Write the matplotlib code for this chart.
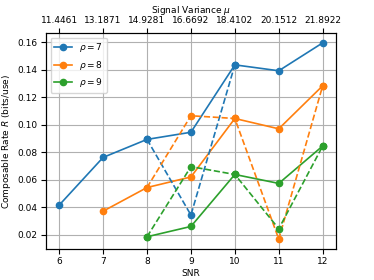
import matplotlib
matplotlib.use("Agg")
import matplotlib.pyplot as plt

snr_7 = [6, 7, 8, 9, 10, 11, 12]
rate_7 = [0.0415, 0.0762, 0.0893, 0.0945, 0.1435, 0.1392, 0.1595]
snr_8 = [7, 8, 9, 10, 11, 12]
rate_8 = [0.0371, 0.0543, 0.0620, 0.1045, 0.0970, 0.1283]
snr_9 = [8, 9, 10, 11, 12]
rate_9 = [0.0185, 0.0260, 0.0638, 0.0573, 0.0845]

dash_snr_7 = [8, 9, 10]
dash_rate_7 = [0.0893, 0.0343, 0.1435]
dash_snr_8 = [8, 9, 10, 11, 12]
dash_rate_8 = [0.0543, 0.1065, 0.1045, 0.0168, 0.1283]
dash_snr_9 = [8, 9, 10, 11, 12]
dash_rate_9 = [0.0185, 0.0695, 0.0638, 0.0243, 0.0845]

snr_ticks = [6, 7, 8, 9, 10, 11, 12]
variance_labels = ["11.4461", "13.1871", "14.9281", "16.6692", "18.4102", "20.1512", "21.8922"]

plt.rcParams["font.size"] = 6.5
plt.rcParams["xtick.major.pad"] = 2.5
plt.rcParams["ytick.major.pad"] = 2.5
fig, ax = plt.subplots(figsize=(3.74, 2.8), dpi=100)
fig.subplots_adjust(left=0.123, right=0.898, top=0.882, bottom=0.111)

ms = 4.5
ax.plot(snr_7, rate_7, "o-", color="C0", ms=ms, lw=1.2, label=r"$\rho=7$")
ax.plot(snr_8, rate_8, "o-", color="C1", ms=ms, lw=1.2, label=r"$\rho=8$")
ax.plot(snr_9, rate_9, "o-", color="C2", ms=ms, lw=1.2, label=r"$\rho=9$")
ax.plot(dash_snr_7, dash_rate_7, "o--", color="C0", ms=ms, lw=1.2)
ax.plot(dash_snr_8, dash_rate_8, "o--", color="C1", ms=ms, lw=1.2)
ax.plot(dash_snr_9, dash_rate_9, "o--", color="C2", ms=ms, lw=1.2)

ax.set_xticks(snr_ticks)
ax.set_xlabel("SNR", labelpad=2)
ax.set_ylabel(r"Composable Rate $R$ (bits/use)", labelpad=3)
ax.grid(True)
ax.legend(loc="upper left")

ax2 = ax.twiny()
ax2.set_xlim(ax.get_xlim())
ax2.set_xticks(snr_ticks)
ax2.set_xticklabels(variance_labels)
ax2.set_xlabel(r"Signal Variance $\mu$", labelpad=2)

fig.savefig("out.png", dpi=100)
